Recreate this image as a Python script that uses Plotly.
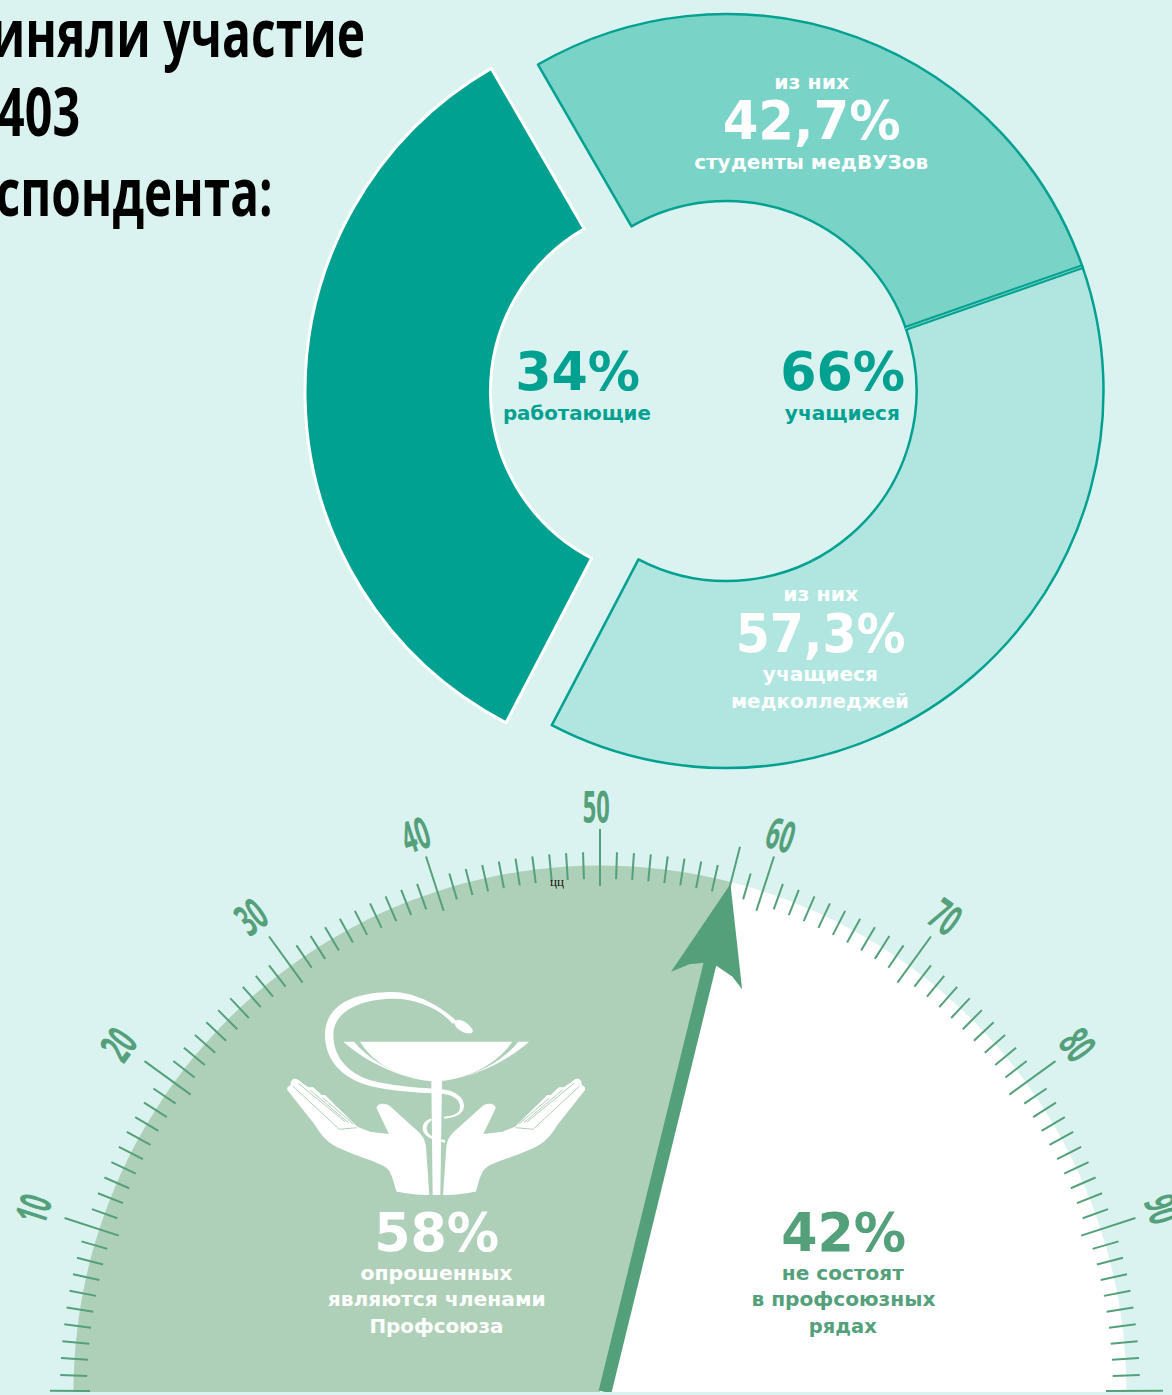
import re
import json
import math
import plotly.graph_objects as go

W, H = 1172, 1395
BG = "#DBF3F0"
TEAL = "#00A190"
TEAL_MID = "#7AD3C7"
TEAL_LIGHT = "#B0E6DF"
GREEN = "#54A07A"
GREEN_LIGHT = "#AFD0B8"
BODY_FONT = "DejaVu Sans"
TITLE_FONT = "Open Sans"

# --- data ---
donut_working = 34
donut_students = 66
students_labels = ["42,7%", "57,3%"]
students_arc = [42.4, 57.6]  # arc shares as drawn in the picture
member_share = 58
non_member_share = 42
gauge_major = [0, 10, 20, 30, 40, 50, 60, 70, 80, 90, 100]
gauge_labels = [10, 20, 30, 40, 50, 60, 70, 80, 90]
arrow_r = [524.6, 427, 436, 441.7, 441.8, 437, 426.3]
arrow_pct = [58.0, 60.8, 59.83, 58.52, 57.6, 56.56, 55.33]


def px(x):
    return x / W


def py(y):
    return 1 - y / H


def theta(v):
    return [a * 1.8 for a in v]


fig = go.Figure()

# donut: left slice sits on its own, pulled away from the main ring
LX, LY, LR = 678.5, 391.5, 373.5
RX, RY, RR = 726.5, 391, 377
fig.add_trace(go.Pie(
    values=[donut_working, donut_students], sort=False, direction="clockwise", rotation=207.5,
    hole=188 / LR, textinfo="none", hoverinfo="skip", showlegend=False,
    marker=dict(colors=[TEAL, "rgba(0,0,0,0)"],
                line=dict(color=["#FFFFFF", "rgba(0,0,0,0)"], width=[3, 0])),
    domain=dict(x=[px(LX - LR), px(LX + LR)], y=[py(LY + LR), py(LY - LR)]),
))
fig.add_trace(go.Pie(
    values=[donut_students * students_arc[0] / 100, donut_students * students_arc[1] / 100, donut_working],
    sort=False, direction="clockwise", rotation=330,
    hole=190 / RR, textinfo="none", hoverinfo="skip", showlegend=False,
    marker=dict(colors=[TEAL_MID, TEAL_LIGHT, "rgba(0,0,0,0)"],
                line=dict(color=[TEAL, TEAL, "rgba(0,0,0,0)"], width=[2.5, 2.5, 0])),
    domain=dict(x=[px(RX - RR), px(RX + RR)], y=[py(RY + RR), py(RY - RR)]),
))

# gauge disc
fig.add_trace(go.Barpolar(
    subplot="polar",
    r=[526.5, 526.5],
    base=[0, 0],
    theta=theta([member_share / 2, member_share + non_member_share / 2]),
    width=theta([member_share, non_member_share]),
    marker=dict(color=[GREEN_LIGHT, "#FFFFFF"], line=dict(width=0)),
    hoverinfo="skip", showlegend=False,
))

# gauge ticks
tick_r, tick_t = [], []
for v in range(0, 101):
    if v == 0:
        lo, hi = 510, 550
    elif v in gauge_major or v == member_share:
        lo, hi = 506, 563
    else:
        lo, hi = 513, 540
    t = min(max(v * 1.8, 0.12), 179.88)  # keep the end ticks' stroke inside the page area
    tick_r += [lo, hi, None]
    tick_t += [t, t, None]
fig.add_trace(go.Scatterpolar(
    subplot="polar", r=tick_r, theta=tick_t, mode="lines", cliponaxis=False,
    line=dict(color=GREEN, width=2), hoverinfo="skip", showlegend=False,
))

# needle
fig.add_trace(go.Scatterpolar(
    subplot="polar", r=[445, 5], theta=theta([member_share, 100]), mode="lines", cliponaxis=False,
    line=dict(color=GREEN, width=13), hoverinfo="skip", showlegend=False,
))
fig.add_trace(go.Scatterpolar(
    subplot="polar", r=arrow_r, theta=theta(arrow_pct), mode="lines", fill="toself",
    fillcolor=GREEN, line=dict(color=GREEN, width=0), cliponaxis=False,
    hoverinfo="skip", showlegend=False,
))

# --- emblem, drawn in a 3x local grid ---
EMBLEM_X, EMBLEM_Y = 270, 1000


def path(d, mirror=False):
    nums = iter(re.findall(r"-?\d+\.?\d*|[A-Z]", d))
    out = []
    for tok in nums:
        if tok.isalpha():
            out.append(tok)
            continue
        zx = float(tok)
        zy = float(next(nums))
        if mirror:
            zx = 997 - zx
        out.append(f"{px(EMBLEM_X + zx / 3):.5f},{py(EMBLEM_Y + zy / 3):.5f}")
    return " ".join(out)


HAND = ("M380,575 C370,550 368,515 345,500 C310,480 230,460 185,432 C165,418 150,400 135,375 L52,270 "
        "C50,262 55,258 62,256 C60,240 72,230 85,240 L115,262 L130,262 L155,285 L165,285 L262,380 L300,395 "
        "L357,402 L320,325 C318,312 345,305 362,320 L445,395 C460,410 465,420 468,440 L478,585 "
        "C440,585 410,580 380,575 Z")
SLITS = ["M68,258 L208,388 L260,383", "M85,250 L225,365", "M120,270 L235,368", "M160,295 L250,372"]
WHITE_PATHS = [
    "M270,125 L727,125 C690,180 610,235 510,243 L480,243 C390,235 310,190 270,125 Z",
    "M220,125 L252,125 C290,170 350,210 420,232 C340,210 270,170 220,125 Z",
    "M777,125 L745,125 C710,170 650,210 575,232 C650,212 720,175 777,125 Z",
    "M484,243 L516,243 L511,585 L488,585 Z",
    "M558,62 C510,15 430,-24 370,-24 C250,-24 165,15 165,105 C165,190 230,243 310,260 C370,272 430,278 500,280 "
    "C545,282 570,295 570,322 C570,340 550,348 522,350 L522,356 C555,354 582,342 582,318 C582,285 545,268 500,266 "
    "C430,264 360,255 310,243 C240,225 190,175 190,105 C190,30 280,-4 370,-4 C440,-4 510,25 548,72 Z",
    "M552,66 C565,50 590,65 605,85 C612,95 608,102 595,100 C575,98 555,85 552,66 Z",
    "M484,355 C465,362 458,372 458,385 C458,405 480,420 525,428 L525,420 C495,418 470,405 470,385 C470,375 475,368 484,362 Z",
]
shapes = []
for d in WHITE_PATHS:
    shapes.append(dict(type="path", xref="paper", yref="paper", path=path(d),
                       fillcolor="#FFFFFF", line=dict(width=0), layer="above"))
for m in (False, True):
    shapes.append(dict(type="path", xref="paper", yref="paper", path=path(HAND, m),
                       fillcolor="#FFFFFF", line=dict(width=0), layer="above"))
    for d in SLITS:
        shapes.append(dict(type="path", xref="paper", yref="paper", path=path(d, m),
                           line=dict(color=GREEN_LIGHT, width=1), layer="above"))

# doubled border between the two light slices of the ring
split_deg = 330 + donut_students * students_arc[0] / 100 * 3.6
sa, ca = math.sin(math.radians(split_deg)), math.cos(math.radians(split_deg))
for color, lw in ((TEAL, 5), (TEAL_MID, 1)):
    shapes.append(dict(type="line", xref="paper", yref="paper", layer="above",
                       x0=px(RX + 189 * sa), y0=py(RY - 189 * ca),
                       x1=px(RX + 376 * sa), y1=py(RY - 376 * ca),
                       line=dict(color=color, width=lw)))

# --- text ---
annotations = []
text_widths = []


def text(s, x, y, size, color, width=None, family=BODY_FONT, angle=0, weight=700):
    annotations.append(dict(
        text=s, x=px(x), y=py(y), xref="paper", yref="paper", showarrow=False,
        xanchor="center", yanchor="middle", textangle=angle,
        font=dict(family=family, size=size, color=color, weight=weight),
    ))
    text_widths.append(width)


text("приняли участие", 147, 31, 66, "#000000", 436, TITLE_FONT)
text("403", 38.5, 110, 66, "#000000", 83, TITLE_FONT)
text("респондента:", 105, 190, 66, "#000000", 335, TITLE_FONT)

text("из них", 811, 82, 20, "#FFFFFF", 75)
text(students_labels[0], 811, 121, 54, "#FFFFFF", 178)
text("студенты медВУЗов", 811, 162, 19, "#FFFFFF", 234)
text(f"{donut_working}%", 577, 371.5, 54, TEAL, 125)
text("работающие", 577, 413, 20, TEAL, 148)
text(f"{donut_students}%", 842, 371.5, 54, TEAL, 125)
text("учащиеся", 842, 413, 20, TEAL, 115)
text("из них", 820, 594, 20, "#FFFFFF", 75)
text(students_labels[1], 820, 633, 54, "#FFFFFF", 170)
text("учащиеся", 820, 674, 20, "#FFFFFF", 115)
text("медколледжей", 820, 701, 20, "#FFFFFF", 178)

text(f"{member_share}%", 436, 1232, 54, "#FFFFFF", 125)
text("опрошенных", 436, 1273, 20, "#FFFFFF", 152)
text("являются членами", 436, 1299, 20, "#FFFFFF", 218)
text("Профсоюза", 436, 1326, 20, "#FFFFFF", 134)
text(f"{non_member_share}%", 843, 1232, 54, GREEN, 125)
text("не состоят", 843, 1273, 20, GREEN, 122)
text("в профсоюзных", 843, 1299, 20, GREEN, 184)
text("рядах", 843, 1326, 20, GREEN, 68)
text("цц", 557, 881, 13, "#111111", None, "Liberation Serif", weight=400)

CX, CY = 600, 1392
for v in gauge_labels:
    a = (v - 50) * 1.8
    s, c = math.sin(math.radians(a)), math.cos(math.radians(a))
    rr = 586 + 8 * s * s
    shift = -4 if v <= 50 else 0
    text(str(v), CX + rr * s + shift, CY - rr * c, 44, GREEN, 27, TITLE_FONT, angle=a, weight=700)

fig.update_layout(
    width=W, height=H, margin=dict(l=0, r=0, t=0, b=0),
    paper_bgcolor=BG, plot_bgcolor=BG, showlegend=False,
    shapes=shapes, annotations=annotations,
    polar=dict(
        domain=dict(x=[px(30), px(1170)], y=[py(1392), py(822)]),
        sector=[0, 180], bgcolor="rgba(0,0,0,0)",
        radialaxis=dict(visible=False, range=[0, 570]),
        angularaxis=dict(visible=False, rotation=180, direction="clockwise", thetaunit="degrees"),
    ),
)

# the reference's condensed and wide faces are not installed: fit real text to its measured width
post = """
document.body.style.margin='0';
document.body.style.background='%s';
var tw=%s;
tw.forEach(function(w,i){
  if(w===null) return;
  var t=document.querySelector('.annotation[data-index="'+i+'"] text');
  if(t){t.setAttribute('textLength',w);t.setAttribute('lengthAdjust','spacingAndGlyphs');}
});
""" % (BG, json.dumps(text_widths))
fig.write_html("out.html", config=dict(displayModeBar=False), post_script=post)
